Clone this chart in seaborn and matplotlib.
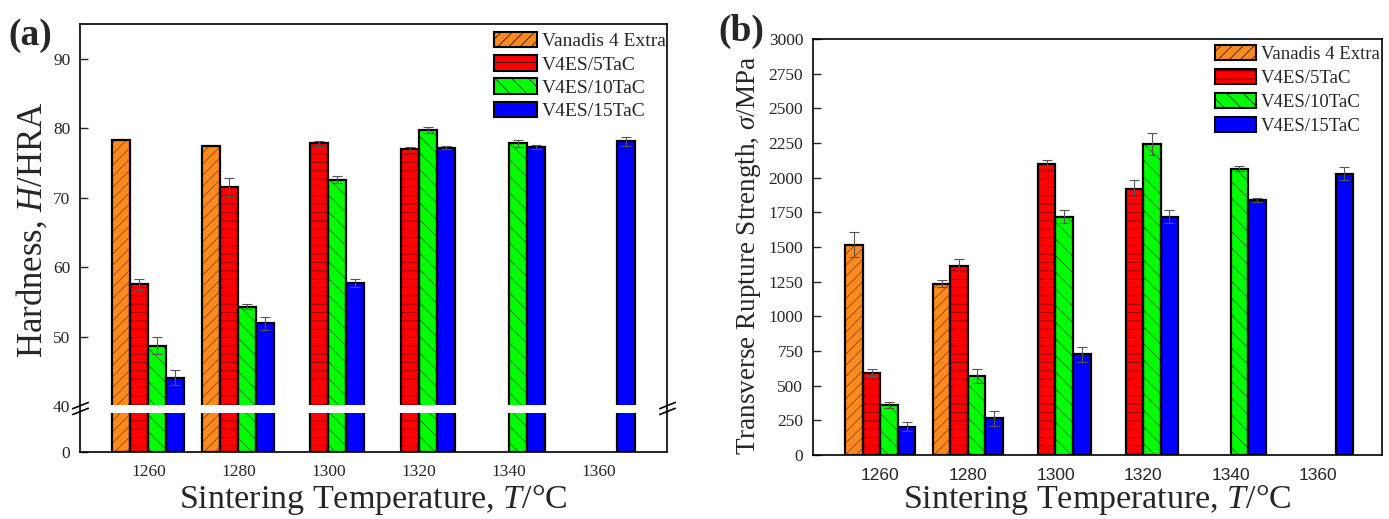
import numpy as np
import pandas as pd
import seaborn as sns
import matplotlib.pyplot as plt
from matplotlib.patches import Patch, Rectangle
from matplotlib.path import Path
from matplotlib.container import BarContainer

nan = np.nan

temps = ['1260', '1280', '1300', '1320', '1340', '1360']
materials = ['Vanadis 4 Extra', 'V4ES/5TaC', 'V4ES/10TaC', 'V4ES/15TaC']

# (a) hardness, HRA
hard_v4e = [78.3, 77.5, nan, nan, nan, nan]
hard_5tac = [57.5, 71.5, 77.8, 77.0, nan, nan]
hard_10tac = [48.7, 54.3, 72.6, 79.7, 77.8, nan]
hard_15tac = [44.1, 51.9, 57.7, 77.2, 77.3, 78.1]
hard_err_v4e = [0.0, 0.0, nan, nan, nan, nan]
hard_err_5tac = [0.8, 1.3, 0.3, 0.3, nan, nan]
hard_err_10tac = [1.2, 0.4, 0.5, 0.4, 0.5, nan]
hard_err_15tac = [1.1, 0.9, 0.6, 0.2, 0.3, 0.6]

# (b) transverse rupture strength, MPa
trs_v4e = [1515, 1235, nan, nan, nan, nan]
trs_5tac = [595, 1360, 2100, 1920, nan, nan]
trs_10tac = [360, 572, 1720, 2245, 2065, nan]
trs_15tac = [205, 265, 725, 1720, 1840, 2030]
trs_err_v4e = [90, 25, nan, nan, nan, nan]
trs_err_5tac = [25, 50, 25, 60, nan, nan]
trs_err_10tac = [20, 50, 45, 80, 20, nan]
trs_err_15tac = [30, 55, 55, 45, 12, 45]

colors = ['#FF8A1C', '#FF0000', '#00FF00', '#0000FF']
hatch_colors = ['#7A3A00', '#700000', '#006000', '#0000FF']
hatches = ['///', '--', '\\\\', '']


def to_frame(series):
    rows = []
    for mat, vals in zip(materials, series):
        for t, v in zip(temps, vals):
            if not np.isnan(v):
                rows.append({'temp': t, 'material': mat, 'value': v})
    return pd.DataFrame(rows)


def draw_bars(ax, df, errs):
    sns.barplot(data=df, x='temp', y='value', hue='material', order=temps,
                hue_order=materials, palette=dict(zip(materials, colors)),
                saturation=1, errorbar=None, legend=False, width=0.8, ax=ax)
    bars = [c for c in ax.containers if isinstance(c, BarContainer)]
    for i, cont in enumerate(bars):
        for p in cont.patches:
            h = p.get_height()
            if np.isnan(h):
                continue
            p.set_hatch(hatches[i])
            p.set_edgecolor(hatch_colors[i])
            p.set_linewidth(0)
            ax.add_patch(Rectangle(p.get_xy(), p.get_width(), h, fill=False,
                                   ec='black', lw=1.6, zorder=1.5))
            xc = p.get_x() + p.get_width() / 2
            e = errs[i][int(round(xc))]
            if e > 0:
                ax.errorbar(xc, h, yerr=e, fmt='none', ecolor='#555555',
                            elinewidth=0.8, capsize=3.5, capthick=0.8, zorder=3)


def add_legend(ax, fontsize, anchor, spacing):
    handles = [Patch(facecolor=c, edgecolor='black', hatch=h, lw=1.5)
               for c, h in zip(colors, hatches)]
    ax.legend(handles, materials, loc='upper right', bbox_to_anchor=anchor,
              frameon=False, fontsize=fontsize, handlelength=2.2,
              handleheight=0.85, handletextpad=0.25, labelspacing=spacing,
              borderpad=0, borderaxespad=0)


sns.set_theme(style='ticks')
plt.rcParams['font.family'] = ['Liberation Serif', 'DejaVu Serif']
plt.rcParams['mathtext.fontset'] = 'custom'
plt.rcParams['mathtext.rm'] = 'Liberation Serif'
plt.rcParams['mathtext.it'] = 'Liberation Serif:italic'
plt.rcParams['hatch.linewidth'] = 0.5

fig = plt.figure(figsize=(13.89, 5.19), dpi=100)
ax1 = fig.add_axes([0.0576, 0.1291, 0.4226, 0.8247])
ax2 = fig.add_axes([0.5853, 0.1233, 0.4097, 0.8015])

# ---- (a) hardness with broken axis ----
k = 0.1655


def fwd(y):
    y = np.asarray(y, dtype=float)
    return np.where(y < 40, y * k, 40 * k + (y - 40))


def inv(u):
    u = np.asarray(u, dtype=float)
    return np.where(u < 40 * k, u / k, u - 40 * k + 40)


draw_bars(ax1, to_frame([hard_v4e, hard_5tac, hard_10tac, hard_15tac]),
          [hard_err_v4e, hard_err_5tac, hard_err_10tac, hard_err_15tac])
ax1.set_yscale('function', functions=(fwd, inv))
ax1.set_ylim(0, 95)
ax1.set_yticks([0, 40, 50, 60, 70, 80, 90])
ax1.set_yticklabels(['0', '40', '50', '60', '70', '80', '90'])
ax1.yaxis.get_major_ticks()[1].tick1line.set_visible(False)
ax1.set_xlim(-0.76, 5.76)
ax1.axhspan(33.7, 40.1, color='white', zorder=2, lw=0)
brk = Path([(-1, -0.75), (1, 0.05), (-1, -0.05), (1, 0.75)],
           [Path.MOVETO, Path.LINETO, Path.MOVETO, Path.LINETO])
ax1.plot([0, 1], [38.5, 38.5], transform=ax1.get_yaxis_transform(), marker=brk,
         markersize=12, ls='none', color='black', mew=1.2, clip_on=False, zorder=5)
ax1.set_ylabel('Hardness, $H$/HRA', fontsize=25)
ax1.yaxis.set_label_coords(-0.052, 0.52)
ax1.set_xlabel('Sintering Temperature, $T$/°C', fontsize=24.5, va='bottom')
ax1.xaxis.set_label_coords(0.5, -0.152)
ax1.tick_params(axis='y', direction='in', length=6, width=1, pad=7, labelsize=12.5)
ax1.tick_params(axis='x', length=0, pad=9, labelsize=12.5)
add_legend(ax1, 14, (0.998, 0.982), 0.25)

# ---- (b) transverse rupture strength ----
draw_bars(ax2, to_frame([trs_v4e, trs_5tac, trs_10tac, trs_15tac]),
          [trs_err_v4e, trs_err_5tac, trs_err_10tac, trs_err_15tac])
ax2.set_ylim(0, 3000)
ax2.set_yticks(np.arange(0, 3001, 250))
ax2.set_xlim(-0.77, 5.73)
ax2.set_ylabel('Transverse Rupture Strength, $\\sigma$/MPa', fontsize=19.5)
ax2.yaxis.set_label_coords(-0.088, 0.48)
ax2.set_xlabel('Sintering Temperature, $T$/°C', fontsize=24.5, va='bottom')
ax2.xaxis.set_label_coords(0.5, -0.149)
ax2.tick_params(axis='y', direction='in', length=6, width=1, pad=7, labelsize=12.5)
ax2.tick_params(axis='x', length=0, pad=9, labelsize=12.5)
for lbl in ax2.get_xticklabels():
    lbl.set_family(['Liberation Sans', 'DejaVu Sans'])
add_legend(ax2, 13.5, (0.996, 0.985), 0.32)

for ax in (ax1, ax2):
    for s in ax.spines.values():
        s.set_linewidth(1.2)
        s.set_color('black')

fig.text(0.006, 0.966, '(a)', fontsize=27, fontweight='bold', va='top')
fig.text(0.517, 0.974, '(b)', fontsize=27, fontweight='bold', va='top')

fig.savefig('out.png', dpi=100)
